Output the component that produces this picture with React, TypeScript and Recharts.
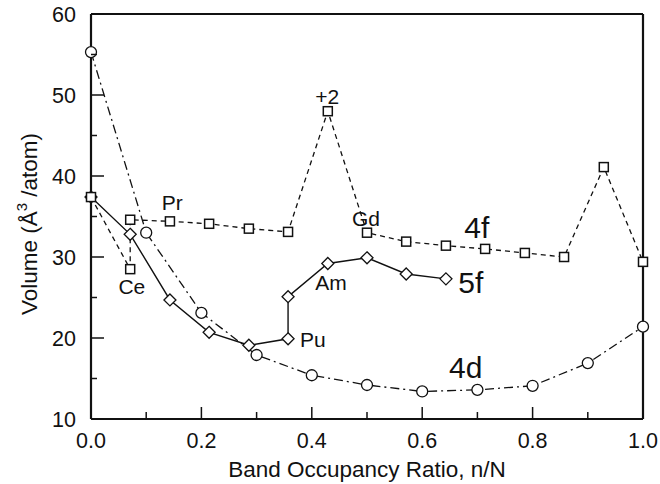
import { LineChart, Line, XAxis, YAxis, ReferenceDot } from 'recharts';

// band occupancy ratio n/N and atomic volume (Å^3/atom) per series
const ratio4d = [0, 0.1, 0.2, 0.3, 0.4, 0.5, 0.6, 0.7, 0.8, 0.9, 1.0];
const volume4d = [55.3, 33.0, 23.1, 17.9, 15.4, 14.2, 13.4, 13.6, 14.1, 16.9, 21.4];

const ratio4f = [0, 0.071, 0.071, 0.143, 0.214, 0.286, 0.357, 0.429, 0.5, 0.571, 0.643, 0.714, 0.786, 0.857, 0.929, 1.0];
const volume4f = [37.4, 28.5, 34.6, 34.4, 34.1, 33.5, 33.1, 48.0, 33.0, 31.9, 31.4, 31.0, 30.5, 30.0, 41.1, 29.4];

const ratio5f = [0, 0.071, 0.143, 0.214, 0.286, 0.357, 0.357, 0.429, 0.5, 0.571, 0.643];
const volume5f = [37.4, 32.8, 24.7, 20.7, 19.1, 19.9, 25.1, 29.2, 29.9, 27.9, 27.3];

const xTicks = [0, 0.1, 0.2, 0.3, 0.4, 0.5, 0.6, 0.7, 0.8, 0.9, 1.0];
const xLabeled = [0, 0.2, 0.4, 0.6, 0.8, 1.0];
const yTicks = [10, 15, 20, 25, 30, 35, 40, 45, 50, 55, 60];
const yLabeled = [10, 20, 30, 40, 50, 60];

// element labels and band names
const notes = [
  { text: 'Pr', x: 0.147, y: 36.7, big: false },
  { text: 'Ce', x: 0.074, y: 26.4, big: false },
  { text: '+2', x: 0.428, y: 49.8, big: false },
  { text: 'Gd', x: 0.498, y: 34.8, big: false },
  { text: 'Am', x: 0.435, y: 26.9, big: false },
  { text: 'Pu', x: 0.402, y: 19.8, big: false },
  { text: '4f', x: 0.699, y: 33.6, big: true },
  { text: '5f', x: 0.688, y: 26.8, big: true },
  { text: '4d', x: 0.679, y: 16.3, big: true },
];

const zip = (xs: number[], ys: number[]) => xs.map((x, i) => ({ x, v: ys[i] }));
const data4d = zip(ratio4d, volume4d);
const data4f = zip(ratio4f, volume4f);
const data5f = zip(ratio5f, volume5f);

const FONT = '"Liberation Sans", Arial, sans-serif';
const INK = '#111';
const TICK_FONT = 21.5;

const near = (a: number, list: number[]) => list.some(b => Math.abs(a - b) < 1e-6);

const BottomTick = (p: any) => {
  const v = p.payload.value;
  const major = near(v, xLabeled);
  return (
    <g>
      <line x1={p.x} x2={p.x} y1={p.y} y2={p.y - (major ? 12 : 7)} stroke={INK} strokeWidth={1.5} />
      {major && (
        <text x={p.x} y={p.y + 29} textAnchor="middle" fontSize={TICK_FONT} fill={INK} fontFamily={FONT}>
          {v.toFixed(1)}
        </text>
      )}
    </g>
  );
};

const TopTick = (p: any) => {
  const major = near(p.payload.value, xLabeled);
  return <line x1={p.x} x2={p.x} y1={p.y} y2={p.y + (major ? 12 : 7)} stroke={INK} strokeWidth={1.5} />;
};

const LeftTick = (p: any) => {
  const v = p.payload.value;
  const major = near(v, yLabeled);
  return (
    <g>
      <line x1={p.x} x2={p.x + (major ? 13 : 6)} y1={p.y} y2={p.y} stroke={INK} strokeWidth={1.5} />
      {major && (
        <text x={p.x - 15} y={p.y + 8} textAnchor="end" fontSize={TICK_FONT} fill={INK} fontFamily={FONT}>
          {v}
        </text>
      )}
    </g>
  );
};

const RightTick = (p: any) => {
  const major = near(p.payload.value, yLabeled);
  return <line x1={p.x} x2={p.x - (major ? 13 : 6)} y1={p.y} y2={p.y} stroke={INK} strokeWidth={1.5} />;
};

const Square = (p: any) => (
  <rect key={`s${p.index}`} x={p.cx - 4.5} y={p.cy - 4.5} width={9} height={9} fill="#fff" stroke={INK} strokeWidth={1.5} />
);
const Diamond = (p: any) => (
  <polygon
    key={`d${p.index}`}
    points={`${p.cx},${p.cy - 6} ${p.cx + 6},${p.cy} ${p.cx},${p.cy + 6} ${p.cx - 6},${p.cy}`}
    fill="#fff"
    stroke={INK}
    strokeWidth={1.3}
  />
);
const Circle = (p: any) => (
  <circle key={`c${p.index}`} cx={p.cx} cy={p.cy} r={5.5} fill="#fff" stroke={INK} strokeWidth={1.3} />
);

const axisStroke = { stroke: INK, strokeWidth: 2.2 };

export default function App() {
  return (
    <div style={{ position: 'absolute', left: 0, top: 0, background: '#fff' }}>
      <LineChart width={660} height={484} margin={{ top: 13, right: 16, bottom: 64, left: 90 }}>
        <XAxis
          dataKey="x"
          type="number"
          domain={[0, 1]}
          ticks={xTicks}
          interval={0}
          height={1}
          tickSize={0}
          tickMargin={0}
          tickLine={false}
          tick={BottomTick}
          axisLine={axisStroke}
        />
        <XAxis
          xAxisId="top"
          orientation="top"
          dataKey="x"
          type="number"
          domain={[0, 1]}
          ticks={xTicks}
          interval={0}
          height={1}
          tickSize={0}
          tickMargin={0}
          tickLine={false}
          tick={TopTick}
          axisLine={axisStroke}
        />
        <YAxis
          type="number"
          domain={[10, 60]}
          ticks={yTicks}
          interval={0}
          width={1}
          tickSize={0}
          tickMargin={0}
          tickLine={false}
          tick={LeftTick}
          axisLine={axisStroke}
        />
        <YAxis
          yAxisId="right"
          orientation="right"
          type="number"
          domain={[10, 60]}
          ticks={yTicks}
          interval={0}
          width={1}
          tickSize={0}
          tickMargin={0}
          tickLine={false}
          tick={RightTick}
          axisLine={axisStroke}
        />
        <Line
          data={data4d}
          dataKey="v"
          stroke={INK}
          strokeWidth={1.3}
          strokeDasharray="9 4 2 4"
          dot={Circle}
          activeDot={false}
          isAnimationActive={false}
        />
        <Line
          data={data5f}
          dataKey="v"
          stroke={INK}
          strokeWidth={1.4}
          dot={Diamond}
          activeDot={false}
          isAnimationActive={false}
        />
        <Line
          data={data4f}
          dataKey="v"
          stroke={INK}
          strokeWidth={1.3}
          strokeDasharray="5 4"
          dot={Square}
          activeDot={false}
          isAnimationActive={false}
        />
        {notes.map(n => (
          <ReferenceDot
            key={n.text}
            x={n.x}
            y={n.y}
            r={0}
            shape={(p: any) => (
              <text
                x={p.cx}
                y={p.cy}
                textAnchor="middle"
                dominantBaseline="central"
                fontSize={n.big ? 30 : 21}
                fill={INK}
                fontFamily={FONT}
              >
                {n.text}
              </text>
            )}
          />
        ))}
        <text x={367} y={477} textAnchor="middle" fontSize={22.5} fill={INK} fontFamily={FONT}>
          Band Occupancy Ratio, n/N
        </text>
        <text
          x={0}
          y={0}
          transform="translate(37 224) rotate(-90)"
          textAnchor="middle"
          fontSize={22.5}
          fill={INK}
          fontFamily={FONT}
        >
          Volume (Å<tspan dy={-10} fontSize={15}>3</tspan>
          <tspan dy={10}> /atom)</tspan>
        </text>
      </LineChart>
    </div>
  );
}
